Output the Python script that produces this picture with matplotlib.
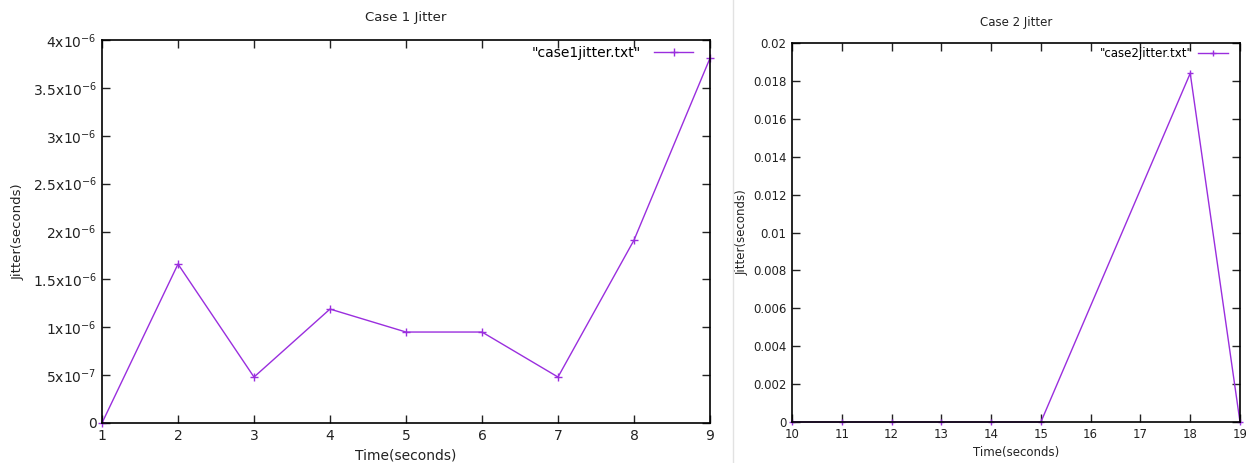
import matplotlib.pyplot as plt
from matplotlib.lines import Line2D

# case 1 data
case1_time = [1, 2, 3, 4, 5, 6, 7, 8, 9]
case1_jitter = [0, 1.66e-6, 4.8e-7, 1.19e-6, 9.5e-7, 9.5e-7, 4.8e-7, 1.91e-6, 3.81e-6]
case1_yticks = [0, 0.5e-6, 1e-6, 1.5e-6, 2e-6, 2.5e-6, 3e-6, 3.5e-6, 4e-6]
case1_ylabels = ['0', '5x10$^{-7}$', '1x10$^{-6}$', '1.5x10$^{-6}$', '2x10$^{-6}$',
                 '2.5x10$^{-6}$', '3x10$^{-6}$', '3.5x10$^{-6}$', '4x10$^{-6}$']

# case 2 data
case2_time = [10, 11, 12, 13, 14, 15, 18, 19]
case2_jitter = [0, 0, 0, 0, 0, 0, 0.0184, 0]
case2_yticks = [0, 0.002, 0.004, 0.006, 0.008, 0.01, 0.012, 0.014, 0.016, 0.018, 0.02]
case2_ylabels = ['0', '0.002', '0.004', '0.006', '0.008', '0.01', '0.012', '0.014',
                 '0.016', '0.018', '0.02']

purple = '#9a2ede'
txt = '#222222'

fig = plt.figure(figsize=(12.46, 4.63), dpi=100)


def style(ax, fs):
    ax.tick_params(direction='in', length=6, width=1, top=True, right=True,
                   labelsize=fs, colors=txt, pad=4)
    for s in ax.spines.values():
        s.set_linewidth(1.2)
        s.set_color('black')


# left chart
ax1 = fig.add_axes([102 / 1246, 40 / 463, 608 / 1246, 383 / 463])
ax1.plot(case1_time, case1_jitter, color=purple, lw=1, marker='+', ms=6, mew=1,
         label='"case1jitter.txt"', clip_on=False)
ax1.set_xlim(1, 9)
ax1.set_ylim(0, 4e-6)
ax1.set_xticks(case1_time)
ax1.set_yticks(case1_yticks)
ax1.set_yticklabels(case1_ylabels)
style(ax1, 10)
ax1.set_title('Case 1 Jitter', fontsize=9.5, color=txt, pad=14)
ax1.set_xlabel('Time(seconds)', fontsize=10, color=txt, labelpad=4)
ax1.set_ylabel('Jitter(seconds)', fontsize=9.5, color=txt, labelpad=6)
ax1.legend(loc='upper right', bbox_to_anchor=(1 - 7 / 608, 1 + 4 / 383),
           frameon=False, markerfirst=False, fontsize=10,
           handlelength=2.8, handletextpad=1.0, borderaxespad=0.3)

# right chart
ax2 = fig.add_axes([792 / 1246, 41 / 463, 448 / 1246, 379 / 463])
ax2.plot(case2_time, case2_jitter, color=purple, lw=1, marker='+', ms=5, mew=1,
         label='"case2jitter.txt"', clip_on=False)
ax2.set_xlim(10, 19)
ax2.set_ylim(0, 0.02)
ax2.set_xticks(range(10, 20))
ax2.set_yticks(case2_yticks)
ax2.set_yticklabels(case2_ylabels)
style(ax2, 8.5)
ax2.set_title('Case 2 Jitter', fontsize=8.5, color=txt, pad=12)
ax2.set_xlabel('Time(seconds)', fontsize=8.5, color=txt, labelpad=4)
ax2.set_ylabel('Jitter(seconds)', fontsize=8.5, color=txt, labelpad=3)
ax2.legend(loc='upper right', bbox_to_anchor=(1 - 4 / 448, 1 + 4 / 379),
           frameon=False, markerfirst=False, fontsize=8.5,
           handlelength=2.5, handletextpad=0.5, borderaxespad=0.3)

# border between the two screenshots
fig.add_artist(Line2D([733 / 1246, 733 / 1246], [0, 1], color='#e2e2e2', lw=1))

fig.savefig('out.png', dpi=100)
